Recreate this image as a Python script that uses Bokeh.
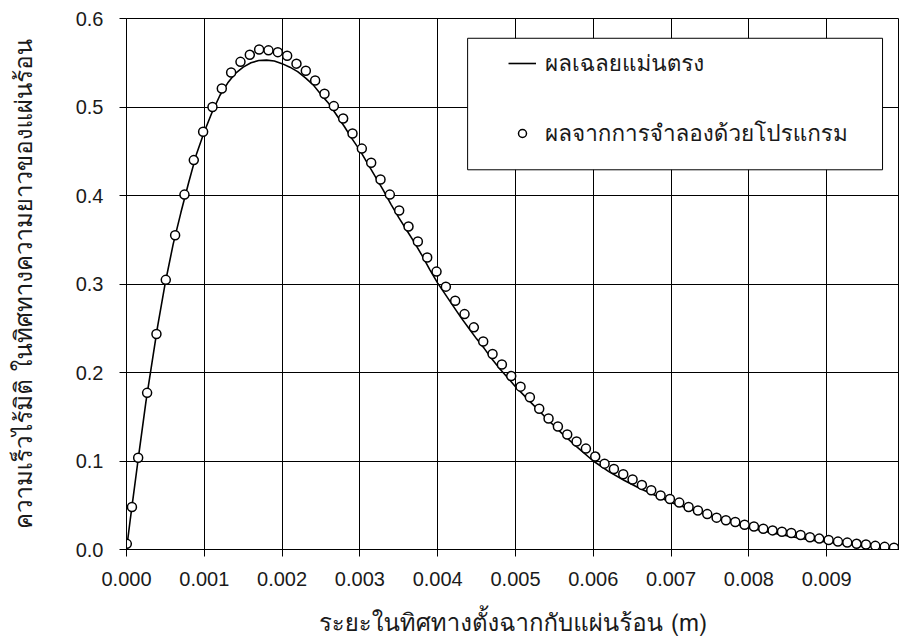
from bokeh.plotting import figure
from bokeh.models import Range1d, FixedTicker, PrintfTickFormatter, Legend, LegendItem, BoxAnnotation
from bokeh.embed import file_html
from bokeh.resources import INLINE

# analytic (exact) solution
exact_x = [0.0, 0.00005, 0.00015, 0.00025, 0.0004, 0.0005, 0.0006, 0.0007, 0.0008, 0.0009,
           0.0010, 0.0011, 0.0012, 0.0013, 0.0014, 0.0015, 0.0016, 0.0017, 0.0018, 0.0019,
           0.0020, 0.0021, 0.0022, 0.0023, 0.0024, 0.0025, 0.0026, 0.0027, 0.0028, 0.0029,
           0.0030, 0.0031, 0.0032, 0.0033, 0.0034, 0.0035, 0.0036, 0.0037, 0.0038, 0.0039,
           0.0040, 0.0041, 0.0042, 0.0043, 0.0044, 0.0045, 0.0046, 0.0047, 0.0048, 0.0049,
           0.0050, 0.0052, 0.0054, 0.0056, 0.0058, 0.0060, 0.0062, 0.0064, 0.0066, 0.0068,
           0.0070, 0.0073, 0.0076, 0.0080, 0.0084, 0.0088, 0.0092, 0.0096, 0.00995]
exact_y = [0.0, 0.035, 0.102, 0.167, 0.252, 0.302, 0.345, 0.381, 0.415, 0.447,
           0.472, 0.494, 0.513, 0.527, 0.538, 0.545, 0.550, 0.5525, 0.553, 0.552,
           0.549, 0.545, 0.540, 0.533, 0.525, 0.514, 0.504, 0.491, 0.478, 0.464,
           0.451, 0.436, 0.421, 0.406, 0.390, 0.375, 0.361, 0.347, 0.332, 0.316,
           0.301, 0.288, 0.275, 0.262, 0.250, 0.238, 0.227, 0.215, 0.204, 0.194,
           0.184, 0.166, 0.148, 0.131, 0.115, 0.100, 0.088, 0.078, 0.069, 0.061,
           0.053, 0.044, 0.035, 0.0245, 0.017, 0.0105, 0.0065, 0.0035, 0.0015]

# simulation results
sim_x = [0.000004, 0.00007, 0.00015, 0.000265, 0.000385, 0.000505, 0.000625, 0.000745, 0.000865, 0.000985,
         0.001105, 0.001225, 0.001345, 0.001465, 0.001585, 0.001705, 0.001825, 0.001945, 0.002065, 0.002185,
         0.002305, 0.002425, 0.002545, 0.002665, 0.002785, 0.002905, 0.003025, 0.003145, 0.003265, 0.003385,
         0.003505, 0.003625, 0.003745, 0.003865, 0.003985, 0.004105, 0.004225, 0.004345, 0.004465, 0.004585,
         0.004705, 0.004825, 0.004945, 0.005065, 0.005185, 0.005305, 0.005425, 0.005545, 0.005665, 0.005785,
         0.005905, 0.006025, 0.006145, 0.006265, 0.006385, 0.006505, 0.006625, 0.006745, 0.006865, 0.006985,
         0.007105, 0.007225, 0.007345, 0.007465, 0.007585, 0.007705, 0.007825, 0.007945, 0.008065, 0.008185,
         0.008305, 0.008425, 0.008545, 0.008665, 0.008785, 0.008905, 0.009025, 0.009145, 0.009265, 0.009385,
         0.009505, 0.009625, 0.009745, 0.009865]
sim_y = [0.0064, 0.048, 0.1036, 0.177, 0.2436, 0.3047, 0.355, 0.401, 0.440, 0.472,
         0.500, 0.521, 0.539, 0.551, 0.559, 0.565, 0.564, 0.562, 0.558, 0.549,
         0.541, 0.530, 0.515, 0.501, 0.487, 0.470, 0.453, 0.437, 0.418, 0.401,
         0.383, 0.365, 0.348, 0.330, 0.314, 0.297, 0.281, 0.266, 0.251, 0.235,
         0.221, 0.209, 0.196, 0.184, 0.172, 0.159, 0.148, 0.139, 0.130, 0.122,
         0.114, 0.105, 0.097, 0.091, 0.085, 0.079, 0.073, 0.067, 0.061, 0.057,
         0.053, 0.048, 0.044, 0.040, 0.036, 0.033, 0.031, 0.028, 0.026, 0.0235,
         0.0216, 0.020, 0.0186, 0.0164, 0.0138, 0.0123, 0.0108, 0.0089, 0.0078, 0.0064,
         0.0056, 0.0041, 0.0030, 0.0019]

x_ticks = [0.000, 0.001, 0.002, 0.003, 0.004, 0.005, 0.006, 0.007, 0.008, 0.009]
y_ticks = [0.0, 0.1, 0.2, 0.3, 0.4, 0.5, 0.6]

label_exact = "ผลเฉลยแม่นตรง"
label_sim = "ผลจากการจำลองด้วยโปรแกรม"
x_title = "ระยะในทิศทางตั้งฉากกับแผ่นร้อน (m)"
y_title = "ความเร็วไร้มิติ ในทิศทางความยาวของแผ่นร้อน"

THAI = "Tahoma, Loma, 'Noto Sans Thai Looped', Garuda, 'Noto Sans Thai', 'Noto Sans'"
NUM = "Liberation Sans"

p = figure(width=899, height=644, output_backend="svg", toolbar_location=None,
           x_range=Range1d(0, 0.009936), y_range=Range1d(0, 0.6),
           min_border_left=124, min_border_right=0, min_border_top=18, min_border_bottom=89,
           background_fill_color="white", border_fill_color="white")

p.outline_line_color = "black"
p.outline_line_width = 1

for ax in (p.xaxis[0], p.yaxis[0]):
    ax.axis_line_color = "black"
    ax.axis_line_width = 1
    ax.major_tick_line_color = "black"
    ax.major_tick_in = 0
    ax.major_tick_out = 7
    ax.minor_tick_line_color = None
    ax.major_label_text_font = NUM
    ax.major_label_text_font_size = "20px"
    ax.major_label_text_color = "#1a1a1a"
    ax.axis_label_text_font = THAI
    ax.axis_label_text_font_size = "24px"
    ax.axis_label_text_font_style = "normal"
    ax.axis_label_text_color = "#1a1a1a"

p.xaxis[0].ticker = FixedTicker(ticks=x_ticks)
p.xaxis[0].formatter = PrintfTickFormatter(format="%.3f")
p.xaxis[0].major_label_standoff = 15
p.xaxis[0].axis_label = x_title
p.xaxis[0].axis_label_standoff = 14

p.yaxis[0].ticker = FixedTicker(ticks=y_ticks)
p.yaxis[0].formatter = PrintfTickFormatter(format="%.1f")
p.yaxis[0].major_label_standoff = 16
p.yaxis[0].axis_label = y_title
p.yaxis[0].axis_label_standoff = 30

p.xgrid[0].ticker = FixedTicker(ticks=x_ticks)
p.ygrid[0].ticker = FixedTicker(ticks=y_ticks)
for g in (p.xgrid[0], p.ygrid[0]):
    g.grid_line_color = "black"
    g.grid_line_width = 1
    g.grid_line_alpha = 1

r_line = p.line(exact_x, exact_y, line_color="black", line_width=1.6)
r_sim = p.scatter(sim_x, sim_y, marker="circle", size=9, fill_color="white",
                  line_color="black", line_width=1.5)

# legend frame (white box with black border)
box = BoxAnnotation(left=0.0043846, right=0.0097179, top=0.57765, bottom=0.42905,
                    fill_color="white", fill_alpha=1.0, line_color="black", line_width=1,
                    line_alpha=1.0)
p.add_layout(box)

legend = Legend(items=[LegendItem(label=label_exact, renderers=[r_line]),
                       LegendItem(label=label_sim, renderers=[r_sim])],
                location=(382, 398), orientation="vertical",
                padding=0, margin=0, spacing=34, glyph_width=28, glyph_height=20,
                label_height=20, label_standoff=9,
                label_text_font=THAI, label_text_font_size="22.5px", label_text_color="#1a1a1a",
                border_line_alpha=0, background_fill_alpha=0)
p.add_layout(legend)

open("out.html", "w").write(file_html(p, INLINE))
